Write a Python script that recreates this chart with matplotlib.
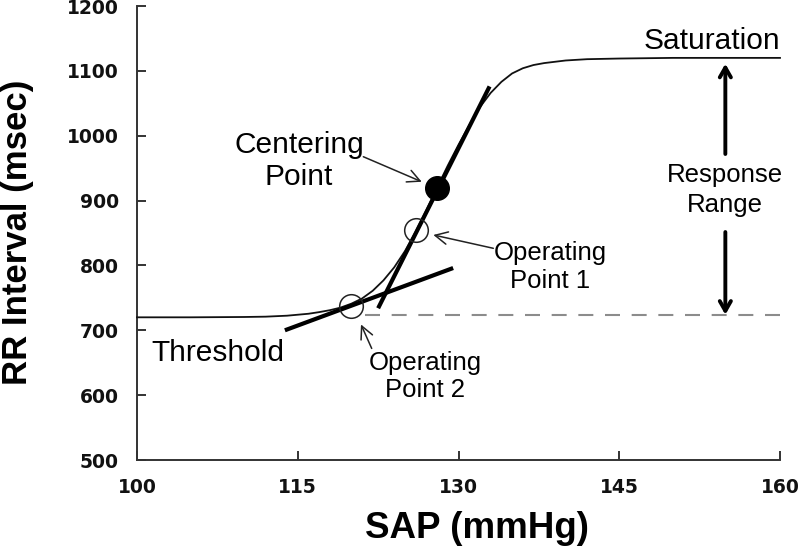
import matplotlib
matplotlib.use("Agg")
import matplotlib.pyplot as plt

# ---- data ----
sap = [100, 105, 110, 112, 114, 116, 117, 118, 119, 120, 121, 122, 123, 124, 125,
       126, 127, 128, 129, 130, 131, 132, 133, 134, 135, 136, 137, 138, 139, 140,
       142, 145, 150, 155, 160]
rr = [720, 720, 720.5, 721, 722.5, 725.5, 728, 731, 735, 741, 749, 761, 777, 797, 822,
      852, 885, 920, 954, 986, 1016, 1044, 1066, 1083, 1096, 1104, 1109, 1112, 1114, 1116,
      1118, 1119, 1120, 1120, 1120]

centering_point = (128.0, 920)
operating_point_1 = (126.0, 854)
operating_point_2 = (120.0, 737)

slope_line_x = [122.5, 132.9]
slope_line_y = [734, 1076]
threshold_line_x = [113.8, 129.5]
threshold_line_y = [700, 796]

threshold_level = 724
dashed_x = [121.3, 160.6]

response_x = 154.9
response_top = 1111
response_bottom = 724

x_ticks = [100, 115, 130, 145, 160]
y_ticks = [500, 600, 700, 800, 900, 1000, 1100, 1200]

# ---- figure ----
fig = plt.figure(figsize=(8.0, 5.51), dpi=100)
ax = fig.add_axes([137/800, 1-460/551, (780-137)/800, (460-6)/551])
ax.set_xlim(100, 160)
ax.set_ylim(500, 1200)

spine_c = "#333333"
for s in ["top", "right"]:
    ax.spines[s].set_visible(False)
for s in ["left", "bottom"]:
    ax.spines[s].set_color(spine_c)
    ax.spines[s].set_linewidth(1.4)

ax.set_xticks(x_ticks)
ax.set_yticks(y_ticks)
ax.tick_params(direction="in", length=6.5, width=1.4, color=spine_c, pad=13)
for lab in ax.get_xticklabels() + ax.get_yticklabels():
    lab.set_fontfamily("DejaVu Sans")
    lab.set_fontweight("bold")
    lab.set_fontsize(13.5)
    lab.set_color("#111111")

# curve
ax.plot(sap, rr, color="#111111", lw=1.3, zorder=3, clip_on=False)
# dashed threshold level
ax.plot(dashed_x, [threshold_level]*2, color="#8c8c8c", lw=1.5,
        dashes=(7.2, 5.6), zorder=2, clip_on=False)
# thick lines
ax.plot(slope_line_x, slope_line_y, color="black", lw=3.0, solid_capstyle="butt", zorder=4)
ax.plot(threshold_line_x, threshold_line_y, color="black", lw=3.0, solid_capstyle="butt", zorder=4)

# points
ax.plot(*operating_point_1, marker="o", ms=17, mfc="none", mec="#222222", mew=1.1, zorder=5)
ax.plot(*operating_point_2, marker="o", ms=17, mfc="none", mec="#222222", mew=1.1, zorder=5)
ax.plot(*centering_point, marker="o", ms=17, mfc="black", mec="black", zorder=6)

# annotation arrows
thin = dict(arrowstyle="->,head_length=0.9,head_width=0.45", color="#222222", lw=1.1,
            shrinkA=0, shrinkB=0)
ax.annotate("", xy=(126.57, 929), xytext=(121.12, 967.6), arrowprops=thin)
ax.annotate("", xy=(127.65, 847), xytext=(133.25, 826.4), arrowprops=thin)
ax.annotate("", xy=(120.9, 709), xytext=(121.9, 672), arrowprops=thin)

thick = dict(arrowstyle="->,head_length=0.7,head_width=0.4", color="black", lw=2.8,
             shrinkA=0, shrinkB=0)
ax.annotate("", xy=(response_x, response_top), xytext=(response_x, 971.8), arrowprops=thick)
ax.annotate("", xy=(response_x, response_bottom), xytext=(response_x, 851.5), arrowprops=thick)

# texts
big = dict(fontfamily="Liberation Sans", fontsize=21.5, color="black", va="baseline")
med = dict(fontfamily="Liberation Sans", fontsize=18.5, color="black", va="baseline", ha="center")
ax.text(115.12, 973.3, "Centering", ha="center", **big)
ax.text(115.12, 924.0, "Point", ha="center", **big)
ax.text(160, 1133.7, "Saturation", ha="right", **big)
ax.text(101.31, 652.6, "Threshold", ha="left", **big)
ax.text(138.54, 808.4, "Operating", **med)
ax.text(138.54, 765.2, "Point 1", **med)
ax.text(126.87, 638.8, "Operating", **med)
ax.text(126.87, 597.1, "Point 2", **med)
ax.text(154.87, 928.6, "Response", **med)
ax.text(154.87, 882.4, "Range", **med)

# axis labels
fig.text(477/800, 1-528/551, "SAP (mmHg)", ha="center", va="center",
         fontfamily="Liberation Sans", fontweight="bold", fontsize=26.5)
fig.text(18/800, 1-232.5/551, "RR Interval (msec)", ha="center", va="center", rotation=90,
         fontfamily="Liberation Sans", fontweight="bold", fontsize=25)

fig.savefig("out.png", dpi=100)
